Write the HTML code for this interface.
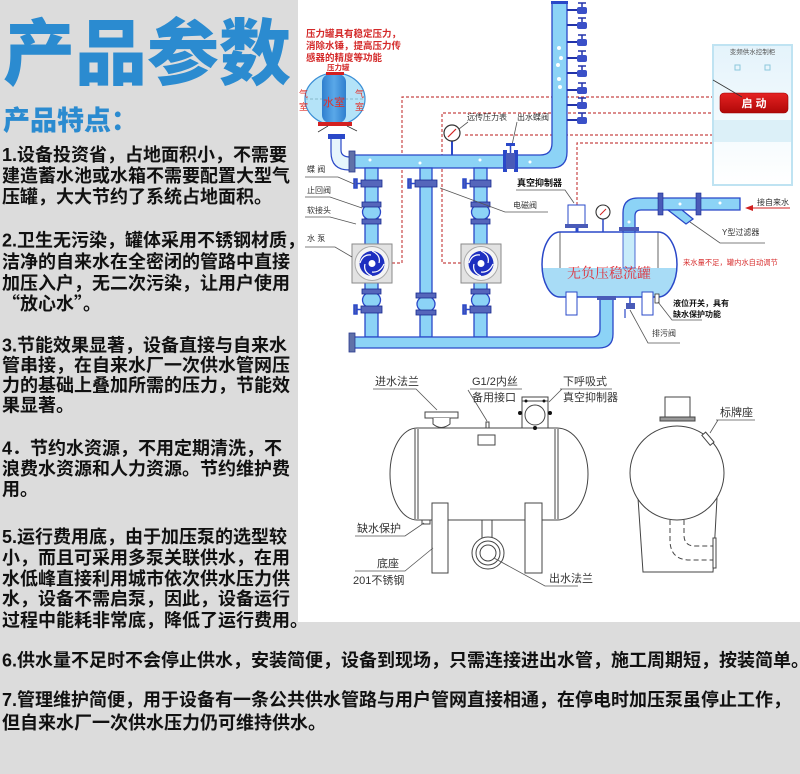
<!DOCTYPE html>
<html><head><meta charset="utf-8"><style>
html,body{margin:0;padding:0;background:#fff;}
svg{display:block;}
.b{font-family:"Liberation Sans","Noto Sans CJK SC",sans-serif;font-weight:bold;font-size:18px;fill:#111;}
.t{font-family:"Liberation Sans","Noto Sans CJK SC",sans-serif;}
.p{fill:#8cd3f6;stroke:#2a48c8;stroke-width:1.3;}
.bd{fill:#5566bb;stroke:#1a2a90;stroke-width:0.8;}
.lb{font-family:"Liberation Sans","Noto Sans CJK SC",sans-serif;font-size:8px;fill:#333;}
.ld{stroke:#555;stroke-width:0.8;fill:none;}
.dr{font-family:"Liberation Sans","Noto Sans CJK SC",sans-serif;font-size:11px;fill:#333;}
</style></head><body>
<svg width="800" height="774" viewBox="0 0 800 774" xmlns="http://www.w3.org/2000/svg">
<defs>
<clipPath id="tk"><path d="M560 232 H658 A19 32.5 0 0 1 658 297 H560 A18 32.5 0 0 1 560 232 Z"/></clipPath>
<linearGradient id="inner" x1="0" y1="0" x2="1" y2="0"><stop offset="0" stop-color="#2f7fcf"/><stop offset="0.5" stop-color="#5aa8e8"/><stop offset="1" stop-color="#2f7fcf"/></linearGradient>
<linearGradient id="cab" x1="0" y1="0" x2="0" y2="1"><stop offset="0" stop-color="#e4f3fb"/><stop offset="1" stop-color="#ffffff"/></linearGradient>
<linearGradient id="btn" x1="0" y1="0" x2="0" y2="1"><stop offset="0" stop-color="#e52222"/><stop offset="1" stop-color="#b00808"/></linearGradient>
</defs>

<!-- backgrounds -->
<rect x="0" y="0" width="800" height="774" fill="#fff"/>
<rect x="0" y="0" width="298" height="622" fill="#dcdcdc"/>
<rect x="0" y="622" width="800" height="152" fill="#dcdcdc"/>

<!-- titles -->
<text x="3" y="79" font-family="'Noto Sans CJK SC',sans-serif" font-weight="900" font-size="72" fill="#2b8bd0">产品参数</text>
<text x="3" y="130" font-family="'Noto Sans CJK SC',sans-serif" font-weight="900" font-size="27" fill="#2b8bd0">产品特点：</text>

<!-- left paragraphs -->
<text class="b" x="2" y="161">1.设备投资省，占地面积小，不需要</text>
<text class="b" x="2" y="182">建造蓄水池或水箱不需要配置大型气</text>
<text class="b" x="2" y="203">压罐，大大节约了系统占地面积。</text>

<text class="b" x="2" y="246.5">2.卫生无污染，罐体采用不锈钢材质，</text>
<text class="b" x="2" y="268">洁净的自来水在全密闭的管路中直接</text>
<text class="b" x="2" y="289.5">加压入户，无二次污染，让用户使用</text>
<text class="b" x="2" y="310"><tspan font-family="'Noto Sans CJK SC',sans-serif">“</tspan><tspan x="20">放心水</tspan><tspan font-family="'Noto Sans CJK SC',sans-serif">”</tspan>。</text>

<text class="b" x="2" y="351.5">3.节能效果显著，设备直接与自来水</text>
<text class="b" x="2" y="371.5">管串接，在自来水厂一次供水管网压</text>
<text class="b" x="2" y="391.5">力的基础上叠加所需的压力，节能效</text>
<text class="b" x="2" y="411.5">果显著。</text>

<text class="b" x="2" y="454.5">4．节约水资源，不用定期清洗，不</text>
<text class="b" x="2" y="475">浪费水资源和人力资源。节约维护费</text>
<text class="b" x="2" y="495.5">用。</text>

<text class="b" x="2" y="543">5.运行费用底，由于加压泵的选型较</text>
<text class="b" x="2" y="564">小，而且可采用多泵关联供水，在用</text>
<text class="b" x="2" y="585">水低峰直接利用城市依次供水压力供</text>
<text class="b" x="2" y="605">水，设备不需启泵，因此，设备运行</text>
<text class="b" x="2" y="626.5">过程中能耗非常底，降低了运行费用。</text>

<text class="b" x="2" y="666.5">6.供水量不足时不会停止供水，安装简便，设备到现场，只需连接进出水管，施工周期短，按装简单。</text>
<text class="b" x="2" y="706">7.管理维护简便，用于设备有一条公共供水管路与用户管网直接相通，在停电时加压泵虽停止工作，</text>
<text class="b" x="2" y="729">但自来水厂一次供水压力仍可维持供水。</text>

<!-- ===== upper diagram ===== -->
<!-- red annotation -->
<g class="t" font-size="9.5" fill="#d42a2a" font-weight="bold">
<text x="306" y="37">压力罐具有稳定压力，</text>
<text x="306" y="49">消除水锤，提高压力传</text>
<text x="306" y="61">感器的精度等功能</text>
<text x="327" y="70" font-size="7.5">压力罐</text>
</g>

<!-- dashed control lines -->
<g stroke="#c84848" stroke-width="1.2" stroke-dasharray="3 2" fill="none">
<path d="M392 263 H402 V97 H713"/>
<path d="M461 263 H442 V113 H713"/>
<path d="M465 135 H713"/>
<path d="M577 205 V143 H713"/>
</g>

<!-- pressure tank -->
<ellipse cx="335" cy="99" rx="30" ry="26" fill="#b4e3f8" stroke="#3b8fd6" stroke-width="1.2"/>
<line x1="305" y1="99" x2="365" y2="99" stroke="#7ab" stroke-dasharray="3 2" stroke-width="0.8"/>
<rect x="322" y="74" width="24" height="49" rx="8" fill="url(#inner)"/>
<rect x="326" y="72" width="18" height="3" fill="#d42020"/>
<rect x="318" y="122" width="34" height="4" fill="#d42020"/>
<g class="t" fill="#e0302a" font-size="11">
<text x="323" y="106">水室</text>
</g>
<g class="t" fill="#e0302a" font-size="9">
<text x="355" y="97">气</text><text x="355" y="110">室</text>
<text x="299" y="97">气</text><text x="299" y="110">室</text>
</g>
<path d="M328 126 L318 132 M347 126 L357 131" stroke="#333" stroke-width="0.8"/>
<path d="M331 138 V152 Q331 170 349 170 H352 V157 H350 Q341 157 341 150 V138 Z" fill="#e6f5fc" stroke="#2a48c8" stroke-width="1.2"/>
<rect x="328" y="134" width="17" height="5" fill="#2a48c8"/>

<!-- top pipe + riser -->
<path class="p" d="M352 155 H540 Q552 155 552 143 V2 H567 V152 Q567 168 551 168 H352 Z"/>
<rect x="349" y="151" width="6" height="21" fill="#6070a8" stroke="#2a3a90" stroke-width="0.8"/>
<rect x="551" y="1" width="17" height="3" fill="#2a48c8"/>
<g fill="#fff">
<circle cx="559" cy="48" r="2"/><circle cx="561" cy="58" r="2"/><circle cx="558" cy="65" r="2"/><circle cx="559" cy="79" r="2"/><circle cx="560" cy="87" r="2"/>
<circle cx="370" cy="160" r="1.5"/><circle cx="420" cy="163" r="1.5"/><circle cx="480" cy="160" r="1.5"/><circle cx="530" cy="162" r="1.5"/>
<circle cx="371" cy="330" r="1.5"/><circle cx="430" cy="342" r="1.5"/><circle cx="500" cy="344" r="1.5"/><circle cx="560" cy="342" r="1.5"/>
</g>

<!-- riser valves -->
<g>
<g id="rv"><line x1="567" y1="10" x2="578" y2="10" stroke="#2233aa" stroke-width="2"/><rect x="577" y="7" width="10" height="7" rx="2" fill="#3a50c8"/><line x1="582" y1="7" x2="582" y2="3" stroke="#2233aa" stroke-width="1.5"/><line x1="578" y1="3" x2="586" y2="3" stroke="#2233aa" stroke-width="1.5"/></g>
<use href="#rv" y="15"/><use href="#rv" y="32"/><use href="#rv" y="48"/><use href="#rv" y="63"/><use href="#rv" y="80"/><use href="#rv" y="95"/><use href="#rv" y="110"/>
</g>

<!-- gauge on top pipe -->
<line x1="452" y1="141" x2="452" y2="155" stroke="#2a48c8" stroke-width="2"/>
<circle cx="452" cy="133" r="8" fill="#fff" stroke="#333" stroke-width="1.2"/>
<line x1="448" y1="137" x2="456" y2="129" stroke="#d02020" stroke-width="1.2"/>
<text class="lb" x="467" y="120">远传压力表</text>
<text class="lb" x="517" y="120">出水蝶阀</text>
<path class="ld" d="M468 122 L459 129 M517 122 L512 145"/>
<!-- top pipe valve -->
<rect x="503" y="150" width="4" height="22" fill="#2a48c8"/>
<rect x="514" y="150" width="4" height="22" fill="#2a48c8"/>
<rect x="506" y="153" width="9" height="16" fill="#4a5bb8"/>
<line x1="510.5" y1="153" x2="510.5" y2="146" stroke="#2a48c8" stroke-width="1.5"/>
<rect x="506" y="143" width="9" height="3" fill="#2a48c8"/>

<!-- branch pipes -->
<rect class="p" x="365" y="168" width="13" height="169"/>
<rect class="p" x="420" y="168" width="12" height="169"/>
<rect class="p" x="474" y="168" width="13" height="169"/>

<!-- soft joints bulges -->
<ellipse class="p" cx="371.5" cy="212" rx="9" ry="8"/>
<ellipse class="p" cx="480.5" cy="212" rx="9" ry="8"/>
<ellipse class="p" cx="371.5" cy="300" rx="9" ry="8"/>
<ellipse class="p" cx="480.5" cy="300" rx="9" ry="8"/>
<ellipse class="p" cx="426" cy="304" rx="9" ry="8"/>

<!-- bands -->
<g>
<rect class="bd" x="361" y="180" width="21" height="7"/>
<rect class="bd" x="362" y="202" width="19" height="5"/>
<rect class="bd" x="362" y="219" width="19" height="5"/>
<rect class="bd" x="362" y="289" width="19" height="5"/>
<rect class="bd" x="361" y="306" width="21" height="7"/>
<rect class="bd" x="415" y="180" width="22" height="7"/>
<rect class="bd" x="416" y="293" width="20" height="5"/>
<rect class="bd" x="416" y="310" width="20" height="5"/>
<rect class="bd" x="470" y="180" width="21" height="7"/>
<rect class="bd" x="471" y="202" width="19" height="5"/>
<rect class="bd" x="471" y="219" width="19" height="5"/>
<rect class="bd" x="471" y="289" width="19" height="5"/>
<rect class="bd" x="470" y="306" width="21" height="7"/>
</g>
<g stroke="#2a48c8" stroke-width="1.5" fill="#4a5bb8">
<line x1="356" y1="183.5" x2="361" y2="183.5"/><rect x="354" y="179" width="3" height="9"/>
<line x1="356" y1="309.5" x2="361" y2="309.5"/><rect x="354" y="305" width="3" height="9"/>
<line x1="410" y1="183.5" x2="415" y2="183.5"/><rect x="408" y="179" width="3" height="9"/>
<line x1="465" y1="183.5" x2="470" y2="183.5"/><rect x="463" y="179" width="3" height="9"/>
<line x1="465" y1="309.5" x2="470" y2="309.5"/><rect x="463" y="305" width="3" height="9"/>
</g>

<!-- pumps -->
<g id="pump">
<rect x="352" y="244" width="40" height="39" fill="#e2e2e2" stroke="#8a8a8a"/>
<circle cx="372" cy="263.5" r="17" fill="#f4f4f4" stroke="#aaa"/>
<circle cx="372" cy="263.5" r="12.5" fill="#1d2fc0"/>
<path d="M372 251 Q381 255 379 263 M384 264 Q380 273 372 272 M372 276 Q363 272 365 264 M360 263 Q363 254 371 255" stroke="#fff" stroke-width="1.2" fill="none"/>
<circle cx="372" cy="263.5" r="3.5" fill="#fff"/>
</g>
<use href="#pump" x="109"/>

<!-- bottom pipe -->
<path class="p" d="M352 337 H592 Q600 337 600 329 V297 H613 V334 Q613 348 599 348 H352 Z"/>
<rect x="349" y="333" width="6" height="19" fill="#6070a8" stroke="#2a3a90" stroke-width="0.8"/>

<!-- left labels -->
<g class="lb">
<text x="307" y="172">蝶 阀</text>
<text x="307" y="193">止回阀</text>
<text x="307" y="213">软接头</text>
<text x="307" y="241">水 泵</text>
</g>
<path class="ld" d="M305 177 H338 L354 184 M305 197 H330 L362 208 M305 217 H330 L356 224 M305 247 H335 L352 257"/>

<!-- vacuum tank -->
<path d="M560 232 H658 A19 32.5 0 0 1 658 297 H560 A18 32.5 0 0 1 560 232 Z" fill="#fff"/>
<rect clip-path="url(#tk)" x="540" y="268" width="140" height="30" fill="#a8dcf6"/>
<rect x="623" y="232" width="12" height="36" fill="#c8ecfa" stroke="#2a48c8" stroke-width="0.8"/>
<line x1="560" y1="232" x2="560" y2="268" stroke="#555" stroke-width="0.9"/>
<line x1="658" y1="232" x2="658" y2="268" stroke="#555" stroke-width="0.9"/>
<path d="M560 232 H658 A19 32.5 0 0 1 658 297 H560 A18 32.5 0 0 1 560 232 Z" fill="none" stroke="#2a48c8" stroke-width="1.5"/>
<text x="567" y="278" font-family="'Liberation Serif','Noto Serif CJK SC',serif" font-size="14" fill="#e0303a">无负压稳流罐</text>
<rect x="566" y="292" width="11" height="23" fill="#fff" stroke="#2a48c8"/>
<rect x="642" y="292" width="11" height="23" fill="#fff" stroke="#2a48c8"/>
<rect x="597" y="296" width="19" height="4" fill="#4a5bb8"/>

<!-- inlet pipe -->
<path class="p" d="M623 232 V213 Q623 198 638 198 H740 V210 H641 Q635 210 635 216 V232 Z"/>
<rect x="619" y="227" width="20" height="4" fill="#4a5bb8"/>
<rect x="658" y="193" width="5" height="22" fill="#4a5bb8" stroke="#1a2a90" stroke-width="0.6"/>
<rect x="696" y="193" width="5" height="22" fill="#4a5bb8" stroke="#1a2a90" stroke-width="0.6"/>
<polygon class="p" points="668,210 682,210 693,219 686,224"/>
<g fill="#fff"><circle cx="680" cy="204" r="1.5"/><circle cx="720" cy="203" r="1.5"/><circle cx="629" cy="222" r="1.5"/></g>

<!-- suppressor, gauge -->
<line x1="577" y1="228" x2="577" y2="232" stroke="#2a48c8" stroke-width="3"/>
<rect x="568" y="205" width="17" height="21" fill="#fff" stroke="#2a48c8"/>
<rect x="565" y="224" width="23" height="4" fill="#4a5bb8"/>
<line x1="603" y1="219" x2="603" y2="232" stroke="#2a48c8" stroke-width="1.5"/>
<circle cx="603" cy="212" r="7" fill="#fff" stroke="#333" stroke-width="1.1"/>
<line x1="600" y1="215" x2="606" y2="209" stroke="#d02020"/>

<!-- level switch, drain -->
<rect x="655" y="294" width="4" height="9" fill="#fff" stroke="#333" stroke-width="0.8"/>
<line x1="630" y1="297" x2="630" y2="304" stroke="#2a48c8" stroke-width="1.5"/>
<rect x="626" y="303" width="9" height="6" fill="#4a5bb8"/>
<line x1="625" y1="309" x2="625" y2="318" stroke="#2a48c8" stroke-width="1.2"/>

<!-- diagram labels -->
<text class="t" x="517" y="186" font-size="9" font-weight="bold" fill="#111">真空抑制器</text>
<path class="ld" d="M516 190 H565 L574 203"/>
<text class="lb" x="513" y="208">电磁阀</text>
<path class="ld" d="M548 212 H505 L440 188"/>
<text class="lb" x="757" y="205">接自来水</text>
<line x1="750" y1="208" x2="790" y2="208" stroke="#d02020" stroke-width="1"/>
<polygon points="745,208 753,205 753,211" fill="#d02020"/>
<text class="lb" x="722" y="235" fill="#555">Y型过滤器</text>
<path class="ld" d="M690 222 L720 243 H765"/>
<text class="t" x="683" y="265" font-size="7.3" fill="#d83030">来水量不足，罐内水自动调节</text>
<text class="t" x="673" y="306" font-size="8" font-weight="bold" fill="#111">液位开关，具有</text>
<text class="t" x="673" y="317" font-size="8" font-weight="bold" fill="#111">缺水保护功能</text>
<path class="ld" d="M658 302 L672 320 H702"/>
<text class="lb" x="652" y="336">排污阀</text>
<path class="ld" d="M630 310 L648 343 H680"/>

<!-- control cabinet -->
<rect x="713" y="45" width="79" height="140" fill="url(#cab)" stroke="#bfe3f2" stroke-width="2"/>
<rect x="714" y="120" width="77" height="22" fill="#dcf0f8"/>
<text class="t" x="752.5" y="54" font-size="6.5" fill="#555" text-anchor="middle">变频供水控制柜</text>
<rect x="735" y="65" width="5" height="5" fill="none" stroke="#8cc8dc"/>
<rect x="765" y="65" width="5" height="5" fill="none" stroke="#8cc8dc"/>
<rect x="720" y="93" width="68" height="20" rx="4" fill="url(#btn)" stroke="#900" stroke-width="0.6"/>
<text class="t" x="754" y="107" font-size="11" font-weight="bold" fill="#fff" text-anchor="middle">启 动</text>
<line x1="713" y1="80" x2="742" y2="97" stroke="#333" stroke-width="0.8"/>

<!-- ===== lower technical drawing ===== -->
<g stroke="#444" stroke-width="1" fill="#fff">
<rect x="425" y="412" width="33" height="6"/>
<path d="M433 418 V424 Q441 431 450 424 V418"/>
<path d="M417 428 H557 A31 46 0 0 1 557 520 H417 A27 46 0 0 1 417 428 Z"/>
<line x1="415" y1="429" x2="415" y2="519"/>
<line x1="418" y1="429" x2="418" y2="519"/>
<line x1="555" y1="429" x2="555" y2="519"/>
<line x1="558" y1="429" x2="558" y2="519"/>
<rect x="478" y="435" width="17" height="10"/>
<rect x="486" y="422" width="3" height="6"/>
<rect x="522" y="397" width="26" height="31" fill="none"/>
<circle cx="535" cy="415" r="10"/>
<line x1="522" y1="401" x2="548" y2="401"/>
<rect x="422" y="520" width="8" height="4"/>
<line x1="482" y1="520" x2="482" y2="540"/>
<line x1="492" y1="520" x2="492" y2="540"/>
<circle cx="488" cy="553" r="16"/>
<circle cx="488" cy="553" r="12"/>
<circle cx="488" cy="553" r="8"/>
<rect x="432" y="503" width="16" height="70"/>
<rect x="525" y="503" width="17" height="70"/>
</g>
<g fill="#111"><circle cx="520" cy="413" r="2"/><circle cx="550" cy="413" r="2"/><circle cx="535" cy="428" r="2"/><circle cx="526" cy="401" r="1.5"/><circle cx="544" cy="401" r="1.5"/></g>

<g class="dr">
<text x="375" y="385">进水法兰</text>
<text x="472" y="385">G1/2内丝</text>
<text x="472" y="401">备用接口</text>
<text x="563" y="385">下呼吸式</text>
<text x="563" y="401">真空抑制器</text>
<text x="357" y="532">缺水保护</text>
<text x="377" y="567">底座</text>
<text x="353" y="584">201不锈钢</text>
<text x="549" y="582">出水法兰</text>
<text x="720" y="416">标牌座</text>
</g>
<path class="ld" d="M373 389 H416 L437 410 M470 389 H522 M468 390 L487 421 M560 389 H612 M562 389 L549 402 M355 536 H405 L424 523 M355 571 H405 L433 548 M494 558 L545 586 H578 M716 420 H755 M718 420 L710 433"/>

<!-- side view -->
<g stroke="#444" stroke-width="1" fill="#fff">
<path d="M638 498 L643 572 H713 L717 498"/>
<circle cx="677" cy="473" r="47"/>
<rect x="665" y="397" width="25" height="21"/>
<rect x="660" y="417" width="35" height="4" fill="#999"/>
<rect x="705" y="432" width="5" height="13" transform="rotate(-40 708 438)"/>
<path d="M670 520 V540 Q670 560 690 560 H713 M684 520 V535 Q684 546 695 546 H713" fill="none" stroke-dasharray="5 3"/>
<rect x="713" y="538" width="3" height="30"/>
</g>
</svg>
</body></html>
